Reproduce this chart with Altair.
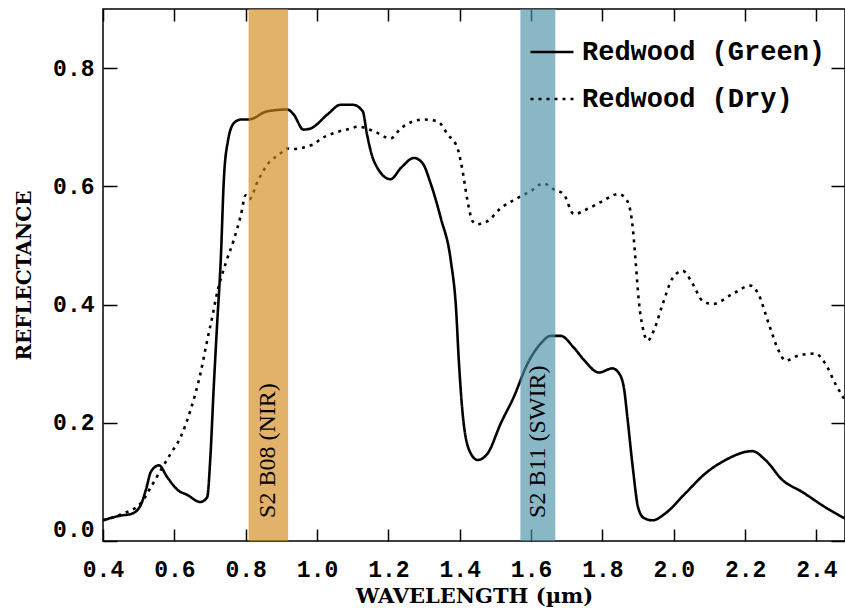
import altair as alt
import pandas as pd

# ---- data ----
green_x = [0.40, 0.45, 0.48, 0.505, 0.52, 0.535, 0.557, 0.58, 0.61, 0.636, 0.673, 0.692, 0.701, 0.71,
           0.72, 0.73, 0.739, 0.75, 0.767, 0.786, 0.808, 0.861, 0.917, 0.934, 0.962, 0.982, 1.03,
           1.066, 1.10, 1.128, 1.14, 1.16, 1.206, 1.235, 1.272, 1.296, 1.319, 1.347, 1.375, 1.39,
           1.397, 1.411, 1.431, 1.45, 1.478, 1.515, 1.551, 1.59, 1.627, 1.655, 1.683, 1.72, 1.75,
           1.79, 1.828, 1.845, 1.86, 1.87, 1.885, 1.90, 1.916, 1.94, 1.977, 2.033, 2.09, 2.145, 2.22,
           2.257, 2.305, 2.36, 2.425, 2.48]
green_y = [0.035, 0.043, 0.046, 0.06, 0.086, 0.118, 0.128, 0.108, 0.086, 0.078, 0.066, 0.074, 0.142,
           0.255, 0.368, 0.474, 0.614, 0.676, 0.707, 0.713, 0.713, 0.727, 0.73, 0.722, 0.696, 0.698,
           0.722, 0.738, 0.738, 0.727, 0.688, 0.642, 0.612, 0.631, 0.648, 0.639, 0.604, 0.546, 0.474,
           0.39, 0.31, 0.199, 0.148, 0.137, 0.148, 0.199, 0.243, 0.30, 0.334, 0.347, 0.347, 0.327,
           0.305, 0.285, 0.292, 0.285, 0.26, 0.209, 0.125, 0.057, 0.039, 0.035, 0.047, 0.081, 0.115,
           0.137, 0.152, 0.137, 0.103, 0.083, 0.057, 0.038]

dry_x = [0.40, 0.45, 0.506, 0.534, 0.562, 0.59, 0.617, 0.645, 0.673, 0.692, 0.71, 0.715, 0.744, 0.767,
         0.786, 0.80, 0.81, 0.834, 0.861, 0.898, 0.917, 0.926, 0.99, 1.01, 1.047, 1.095, 1.114, 1.16,
         1.206, 1.235, 1.299, 1.338, 1.366, 1.394, 1.408, 1.422, 1.436, 1.45, 1.478, 1.515, 1.562,
         1.599, 1.635, 1.663, 1.691, 1.72, 1.759, 1.80, 1.845, 1.87, 1.885, 1.893, 1.902, 1.913,
         1.927, 1.944, 1.969, 1.997, 2.025, 2.053, 2.081, 2.109, 2.165, 2.215, 2.237, 2.266, 2.294,
         2.313, 2.35, 2.397, 2.425, 2.453, 2.48]
dry_y = [0.035, 0.045, 0.064, 0.091, 0.12, 0.148, 0.175, 0.221, 0.283, 0.339, 0.39, 0.406, 0.47, 0.51,
         0.55, 0.585, 0.578, 0.609, 0.637, 0.656, 0.664, 0.663, 0.671, 0.68, 0.69, 0.698, 0.701, 0.693,
         0.681, 0.698, 0.713, 0.71, 0.688, 0.664, 0.626, 0.575, 0.541, 0.536, 0.541, 0.563, 0.58,
         0.592, 0.605, 0.595, 0.587, 0.553, 0.562, 0.575, 0.587, 0.575, 0.53, 0.474, 0.406, 0.361,
         0.339, 0.356, 0.401, 0.445, 0.457, 0.435, 0.406, 0.401, 0.418, 0.432, 0.418, 0.368, 0.322,
         0.305, 0.314, 0.317, 0.30, 0.266, 0.238]

series_names = ["Redwood (Green)", "Redwood (Dry)"]

band_labels = ["S2 B08 (NIR)", "S2 B11 (SWIR)"]
band_start = [0.808, 1.570]
band_end = [0.919, 1.668]
band_colors = ["#D3891A", "#4B91A6"]
band_label_y = 0.039

x_ticks = [0.4, 0.6, 0.8, 1.0, 1.2, 1.4, 1.6, 1.8, 2.0, 2.2, 2.4]
y_ticks = [0.0, 0.2, 0.4, 0.6, 0.8]

# ---- tables ----
lines_df = pd.concat([
    pd.DataFrame({"wavelength": green_x, "reflectance": green_y, "series": series_names[0]}),
    pd.DataFrame({"wavelength": dry_x, "reflectance": dry_y, "series": series_names[1]}),
])
bands_df = pd.DataFrame({"label": band_labels, "start": band_start, "end": band_end})

W, H = 742, 532
xs = alt.Scale(domain=[0.4, 2.48], nice=False, zero=False)
ys = alt.Scale(domain=[0.0, 0.9], nice=False, zero=False)

tick_font = "Liberation Mono"
title_font = "DejaVu Serif"


def tick_axis(orient, size, offset):
    return alt.Axis(orient=orient, offset=offset, values=x_ticks if orient in ("top", "bottom") else y_ticks,
                    labels=False, domain=False, grid=False, ticks=True, tickSize=size,
                    tickColor="black", tickWidth=1.5, title=None)


lines = alt.Chart(lines_df).mark_line(
    clip=True, color="black", strokeWidth=2.6, interpolate="monotone"
).encode(
    x=alt.X("wavelength:Q", scale=xs,
            axis=alt.Axis(orient="bottom", values=x_ticks, format=".1f", ticks=False, tickSize=0,
                          domain=False, grid=False, labelFont=tick_font, labelFontSize=23,
                          labelFontWeight="bold", labelColor="black", labelPadding=17,
                          labelFlush=False,
                          title="WAVELENGTH (µm)", titleFont=title_font, titleFontSize=21,
                          titleFontWeight="bold", titleColor="black", titleBaseline="alphabetic",
                          titleY=61)),
    y=alt.Y("reflectance:Q", scale=ys,
            axis=alt.Axis(orient="left", values=y_ticks, format=".1f", ticks=False, tickSize=0,
                          domain=False, grid=False, labelFont=tick_font, labelFontSize=23,
                          labelFontWeight="bold", labelColor="black", labelPadding=9,
                          labelFlush=True,
                          title="REFLECTANCE", titleFont=title_font, titleFontSize=20,
                          titleFontWeight="bold", titleColor="black", titleAngle=270,
                          titleBaseline="middle", titleAlign="center", titleX=-79, titleY=H / 2)),
    strokeDash=alt.StrokeDash(
        "series:N",
        scale=alt.Scale(domain=series_names, range=[[1, 0], [3, 5]]),
        legend=alt.Legend(title=None, orient="none", legendX=426, legendY=20, symbolType="stroke",
                          symbolSize=1849, symbolStrokeWidth=2.6, symbolStrokeColor="black",
                          labelFont=tick_font, labelFontSize=27, labelFontWeight="bold",
                          labelColor="black", labelOffset=7, rowPadding=11, padding=0,
                          labelLimit=400)),
)

bands = alt.Chart(bands_df).mark_rect(opacity=0.65).encode(
    x=alt.X("start:Q", scale=xs, axis=tick_axis("bottom", 12, -12)),
    x2="end:Q",
    y=alt.Y(datum=0.0, scale=ys, axis=tick_axis("left", 14, -14)),
    y2=alt.Y2(datum=0.9),
    color=alt.Color("label:N", scale=alt.Scale(domain=band_labels, range=band_colors), legend=None),
)

texts = alt.Chart(bands_df).transform_calculate(
    mid="(datum.start + datum.end) / 2"
).mark_text(
    angle=270, align="left", baseline="middle", font="Liberation Serif", fontSize=24, color="black"
).encode(
    x=alt.X("mid:Q", scale=xs, axis=tick_axis("top", 12, -12)),
    y=alt.Y(datum=band_label_y, scale=ys, axis=tick_axis("right", 14, -14)),
    text="label:N",
)

chart = alt.layer(lines, bands, texts).resolve_axis(
    x="independent", y="independent"
).properties(
    width=W, height=H,
    autosize=alt.AutoSizeParams(type="none"),
    padding={"left": 103, "top": 9, "right": 0, "bottom": 71},
    background="white",
).configure_view(stroke="black", strokeWidth=1.5)

chart.save("out.html", embed_options={"renderer": "svg", "actions": False})
